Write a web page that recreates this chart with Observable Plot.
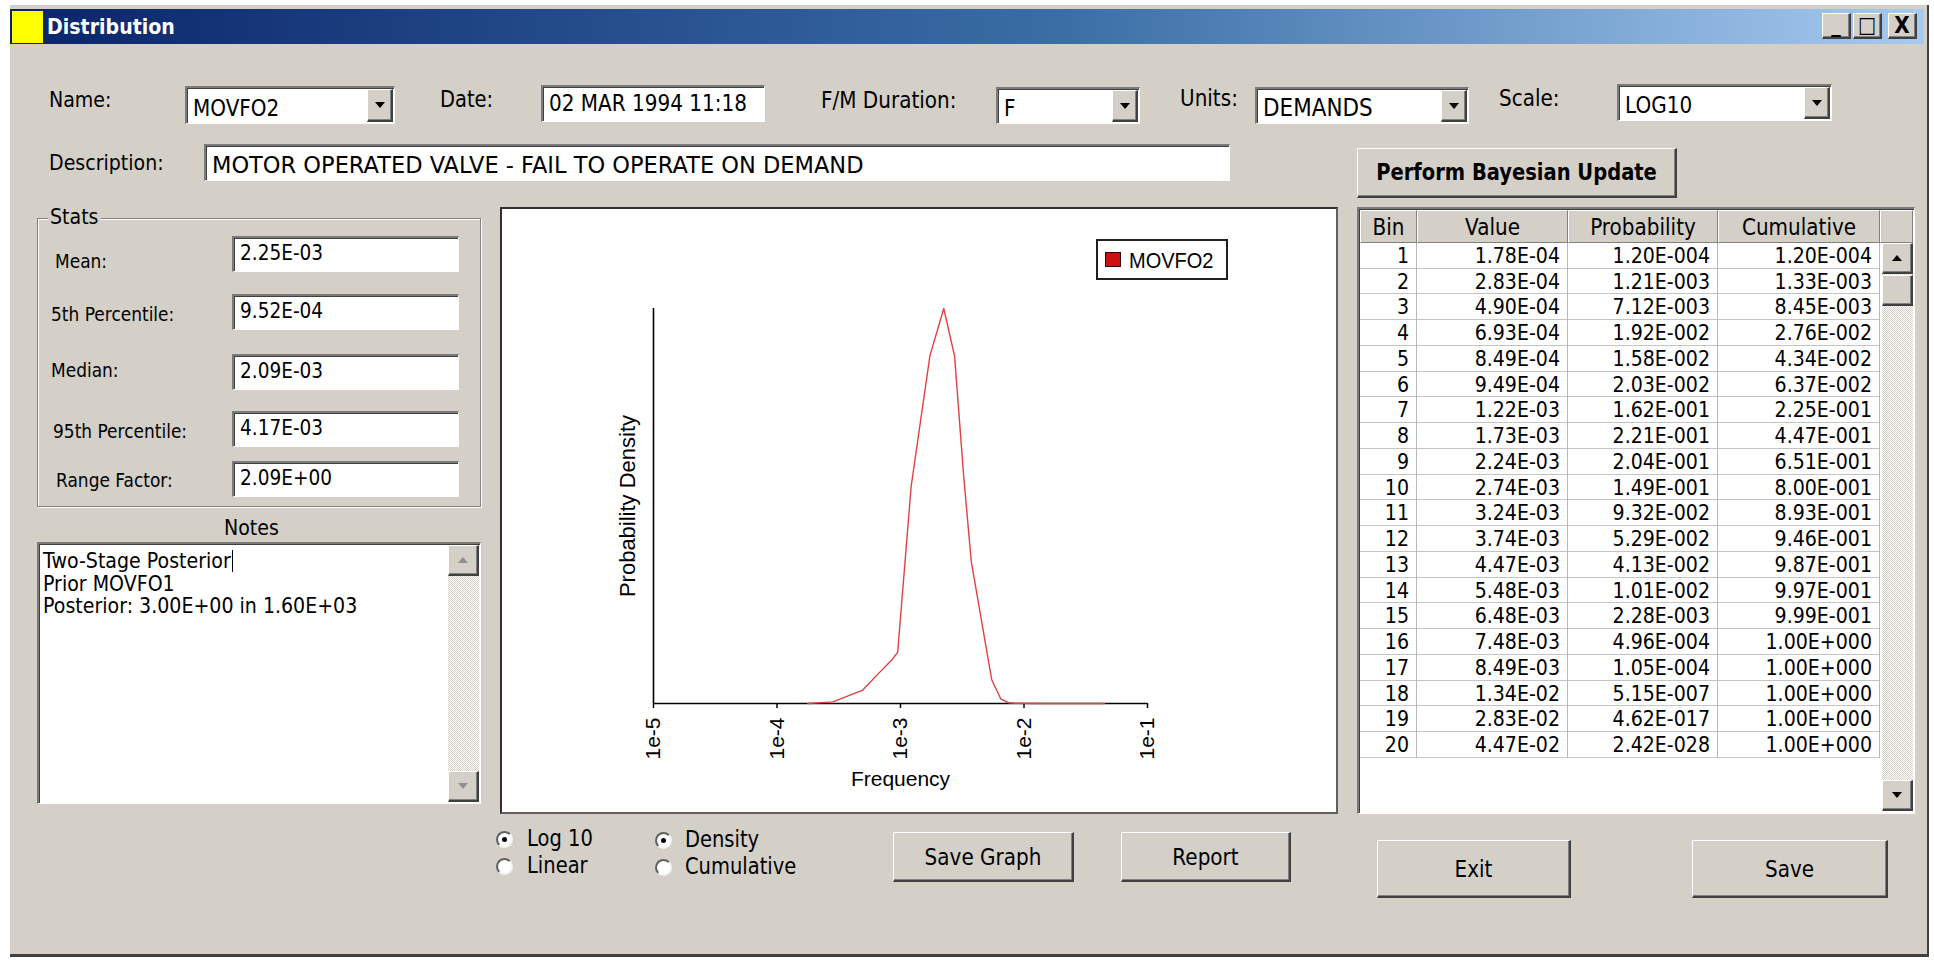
<!DOCTYPE html>
<html>
<head>
<meta charset="utf-8">
<title>Distribution</title>
<script src="https://cdn.jsdelivr.net/npm/d3@7"></script>
<script src="https://cdn.jsdelivr.net/npm/@observablehq/plot@0.6"></script>
<style>
  html, body { margin: 0; padding: 0; }
  body {
    width: 1934px; height: 960px; position: relative; overflow: hidden;
    background: #fff;
    font-family: "DejaVu Sans", "Liberation Sans", sans-serif; font-size: 20px; color: #000;
  }
  .win { position: absolute; left: 10px; top: 5px; width: 1919px; height: 952px; background: #d4d0c8;
         border-right: 2px solid #404040; border-bottom: 3px solid #404040; box-sizing: border-box; }
  .abs { position: absolute; box-sizing: border-box; }
  .t { position: absolute; white-space: nowrap; line-height: 1; transform: translateY(-50%) scaleY(1.15); transform-origin: left center; }
  .sunken { position: absolute; box-sizing: border-box; background: #fff;
            border-top: 2px solid #7a7a7a; border-left: 2px solid #7a7a7a;
            border-right: 1px solid #fff; border-bottom: 1px solid #fff;
            box-shadow: inset 1px 1px 0 #404040; }
  .raised { position: absolute; box-sizing: border-box; background: #d4d0c8;
            border-top: 1px solid #fff; border-left: 1px solid #fff;
            border-right: 2px solid #404040; border-bottom: 2px solid #404040;
            box-shadow: inset -1px -1px 0 #808080; }
  .field-text { position: absolute; left: 6px; top: 50%; white-space: nowrap; line-height: 1;
                transform: translateY(-50%) scaleY(1.15); transform-origin: left center; }
  .down { position: absolute; left: 50%; top: 50%; width: 0; height: 0; margin-left: -5px; margin-top: -3px;
          border-left: 5px solid transparent; border-right: 5px solid transparent; border-top: 6px solid #000; }
  .up { position: absolute; left: 50%; top: 50%; width: 0; height: 0; margin-left: -5px; margin-top: -3px;
        border-left: 5px solid transparent; border-right: 5px solid transparent; border-bottom: 6px solid #000; }
  .track { position: absolute; box-sizing: border-box;
           background: repeating-conic-gradient(#d4d0c8 0 25%, #ffffff 0 50%) 0 0 / 2px 2px; }
  .btn-label { position: absolute; left: 0; right: 0; top: 50%; text-align: center; line-height: 1;
               transform: translateY(-50%) scaleY(1.15); white-space: nowrap; }
  .radio { position: absolute; width: 17px; height: 17px; border-radius: 50%; box-sizing: border-box; background: #fff;
           border: 2px solid; border-color: #606060 #f4f4f4 #f4f4f4 #606060; }
  .radio.on::after { content: ""; position: absolute; left: 4px; top: 4px; width: 5px; height: 5px; border-radius: 50%; background: #000; }
  .cell { position: absolute; box-sizing: border-box; text-align: right; white-space: nowrap; line-height: 1; padding-right: 8px; }
  .cell span { display: inline-block; transform: scaleY(1.12); }
  .hcell { position: absolute; box-sizing: border-box; background: #d4d0c8; text-align: center;
           border-top: 1px solid #fff; border-left: 1px solid #fff; border-right: 1px solid #808080; border-bottom: 1px solid #808080; }
  .hcell span { position: absolute; left: 0; right: 0; top: 50%; transform: translateY(-50%) scaleY(1.12); line-height: 1; }
  #chart svg { display: block; }
</style>
</head>
<body>
<div class="win"></div>
<div id="ui"></div>
<script>
// ---- distribution data -------------------------------------------------
const binNumbers = [1, 2, 3, 4, 5, 6, 7, 8, 9, 10, 11, 12, 13, 14, 15, 16, 17, 18, 19, 20];
const binValues = [1.78e-4, 2.83e-4, 4.90e-4, 6.93e-4, 8.49e-4, 9.49e-4, 1.22e-3, 1.73e-3, 2.24e-3, 2.74e-3,
                   3.24e-3, 3.74e-3, 4.47e-3, 5.48e-3, 6.48e-3, 7.48e-3, 8.49e-3, 1.34e-2, 2.83e-2, 4.47e-2];
const binProbability = [1.20e-4, 1.21e-3, 7.12e-3, 1.92e-2, 1.58e-2, 2.03e-2, 1.62e-1, 2.21e-1, 2.04e-1, 1.49e-1,
                        9.32e-2, 5.29e-2, 4.13e-2, 1.01e-2, 2.28e-3, 4.96e-4, 1.05e-4, 5.15e-7, 4.62e-17, 2.42e-28];
const binCumulative = [1.20e-4, 1.33e-3, 8.45e-3, 2.76e-2, 4.34e-2, 6.37e-2, 2.25e-1, 4.47e-1, 6.51e-1, 8.00e-1,
                       8.93e-1, 9.46e-1, 9.87e-1, 9.97e-1, 9.99e-1, 1.00, 1.00, 1.00, 1.00, 1.00];
// relative probability density at each bin value (peak = 1)
const binDensity = [0, 0.004, 0.033, 0.082, 0.11, 0.13, 0.55, 0.88, 1.0, 0.88,
                    0.58, 0.36, 0.22, 0.06, 0.012, 0.002, 0.0005, 0, 0, 0];

const xTicks = [1e-5, 1e-4, 1e-3, 1e-2, 1e-1];
const xTickLabels = ["1e-5", "1e-4", "1e-3", "1e-2", "1e-1"];
const seriesName = "MOVFO2";

const statLabels = ["Mean:", "5th Percentile:", "Median:", "95th Percentile:", "Range Factor:"];
const statValues = [2.25e-3, 9.52e-4, 2.09e-3, 4.17e-3, 2.09];
const noteLines = ["Two-Stage Posterior", "Prior MOVFO1", "Posterior: 3.00E+00 in 1.60E+03"];

// scientific notation as the form shows it, e.g. 1.78E-04 / 1.20E-004
function sci(v, expDigits) {
  const [m, e] = v.toExponential(2).split("e");
  const n = Math.abs(+e);
  return m + "E" + (+e < 0 ? "-" : "+") + String(n).padStart(expDigits, "0");
}

// ---- form ----------------------------------------------------------------
const ui = document.getElementById("ui");
let html = "";
const add = s => { html += s; };
const label = (text, x, y, extra = "") =>
  add(`<div class="t" style="left:${x}px;top:${y}px;${extra}">${text}</div>`);
const field = (x, y, w, h, text, extra = "") =>
  add(`<div class="sunken" style="left:${x}px;top:${y}px;width:${w}px;height:${h}px">` +
      `<div class="field-text" style="${extra}">${text}</div></div>`);
const combo = (x, y, w, h, text, extra = "") =>
  add(`<div class="sunken" style="left:${x}px;top:${y}px;width:${w}px;height:${h}px">` +
      `<div class="field-text" style="top:56%;${extra}">${text}</div>` +
      `<div class="raised" style="right:1px;top:1px;width:26px;bottom:1px"><div class="down"></div></div></div>`);
const button = (x, y, w, h, text, extra = "") =>
  add(`<div class="raised" style="left:${x}px;top:${y}px;width:${w}px;height:${h}px">` +
      `<div class="btn-label" style="${extra}">${text}</div></div>`);

// title bar
add(`<div class="abs" style="left:10px;top:9px;width:1914px;height:35px;background:linear-gradient(to right,#0a246a 0%,#3a6ea5 55%,#a6caf0 100%)"></div>`);
add(`<div class="abs" style="left:12px;top:11px;width:31px;height:32px;background:#ffff00"></div>`);
label("Distribution", 47, 27, "color:#fff;font-weight:bold;font-size:19px");
[[1822, "_"], [1853, "□"], [1888, "X"]].forEach(([x, g]) =>
  add(`<div class="raised" style="left:${x}px;top:13px;width:29px;height:26px">` +
      `<div class="btn-label" style="font-weight:bold;font-size:${g === "X" ? 20 : 19}px;top:48%">${g}</div></div>`));

// header fields
label("Name:", 49, 100, "font-size:19px");
combo(185, 86, 210, 38, "MOVFO2");
label("Date:", 440, 100, "font-size:19.5px");
field(541, 85, 224, 37, "02 MAR 1994 11:18", "top:48%");
label("F/M Duration:", 821, 100, "font-size:20px");
combo(996, 87, 144, 37, "F");
label("Units:", 1180, 98, "font-size:20px");
combo(1255, 87, 214, 37, "DEMANDS", "font-size:21.5px");
label("Scale:", 1499, 98, "font-size:20px");
combo(1617, 84, 215, 37, "LOG10");

label("Description:", 49, 163, "font-size:19px");
field(204, 144, 1026, 37, "MOTOR OPERATED VALVE - FAIL TO OPERATE ON DEMAND", "top:55%;font-size:22.5px;transform:translateY(-50%) scaleY(1.05)");

button(1357, 148, 320, 50, "Perform Bayesian Update", "font-weight:bold;font-size:19.5px");

// stats group
add(`<div class="abs" style="left:37px;top:218px;width:444px;height:289px;border:1px solid #808080;box-shadow:1px 1px 0 #fff, inset 1px 1px 0 #fff"></div>`);
label("Stats", 48, 217, "background:#d4d0c8;padding:0 2px;font-size:19px");
const statRows = [[262, 236], [315, 294], [371, 354], [432, 411], [481, 461]];
const statLabelX = [55, 51, 51, 53, 56];
statLabels.forEach((s, i) => {
  label(s, statLabelX[i], statRows[i][0], "font-size:17px");
  field(232, statRows[i][1], 227, 36, sci(statValues[i], 2), "top:44%;font-size:18.5px");
});

// notes
label("Notes", 224, 528, "font-size:19px");
add(`<div class="sunken" style="left:37px;top:542px;width:444px;height:262px">` +
    noteLines.map((l, i) => `<div class="t" style="left:4px;top:${17 + i * 22.5}px;font-size:19px">${l}` +
      (i === 0 ? `<span style="display:inline-block;width:1px;height:19px;background:#000;vertical-align:-3px;margin-left:1px"></span>` : "") +
      `</div>`).join("") +
    `<div class="track" style="right:1px;top:1px;width:31px;bottom:1px"></div>` +
    `<div class="raised" style="right:1px;top:1px;width:31px;height:31px"><div class="up" style="border-bottom-color:#909090"></div></div>` +
    `<div class="raised" style="right:1px;bottom:1px;width:31px;height:31px"><div class="down" style="border-top-color:#909090"></div></div>` +
    `</div>`);

// chart panel
add(`<div class="abs" style="left:500px;top:207px;width:838px;height:607px;background:#fff;border:2px solid #303030;border-right-color:#606060;border-bottom-color:#606060"></div>`);
add(`<div id="chart" class="abs" style="left:502px;top:209px"></div>`);
// legend
add(`<div class="abs" style="left:1096px;top:239px;width:132px;height:41px;background:#fff;border:2px solid #202020"></div>`);
add(`<div class="abs" style="left:1105px;top:252px;width:16px;height:15px;background:#cc1010;border:1px solid #300"></div>`);
add(`<div class="t" style="left:1129px;top:260px;font-family:'Liberation Sans',Arial,sans-serif;font-size:20px;transform:translateY(-50%) scaleY(1.1)">${seriesName}</div>`);

// table
const colEdges = [1360, 1417, 1568, 1718, 1880];
const headers = ["Bin", "Value", "Probability", "Cumulative"];
add(`<div class="sunken" style="left:1357px;top:207px;width:558px;height:607px"></div>`);
headers.forEach((h, i) =>
  add(`<div class="hcell" style="left:${colEdges[i]}px;top:210px;width:${colEdges[i + 1] - colEdges[i]}px;height:33px"><span>${h}</span></div>`));
add(`<div class="hcell" style="left:1880px;top:210px;width:33px;height:33px"></div>`);
const rowTop = 243, rowH = 25.74;
const cols = [binNumbers.map(String), binValues.map(v => sci(v, 2)), binProbability.map(v => sci(v, 3)), binCumulative.map(v => sci(v, 3))];
binNumbers.forEach((b, r) => {
  const y = rowTop + r * rowH;
  add(`<div class="abs" style="left:1360px;top:${y + rowH - 1}px;width:520px;height:1px;background:#c4c4c4"></div>`);
  cols.forEach((c, i) =>
    add(`<div class="cell" style="left:${colEdges[i]}px;top:${y}px;width:${colEdges[i + 1] - colEdges[i]}px;height:${rowH}px;line-height:${rowH}px;font-size:19px"><span>${c[r]}</span></div>`));
});
const tableBottom = rowTop + binNumbers.length * rowH;
colEdges.slice(1).forEach(x =>
  add(`<div class="abs" style="left:${x - 1}px;top:${rowTop}px;width:1px;height:${tableBottom - rowTop}px;background:#b8b8b8"></div>`));
// table scrollbar
add(`<div class="track" style="left:1882px;top:243px;width:31px;height:568px"></div>`);
add(`<div class="raised" style="left:1882px;top:243px;width:31px;height:31px"><div class="up"></div></div>`);
add(`<div class="raised" style="left:1882px;top:275px;width:31px;height:31px"></div>`);
add(`<div class="raised" style="left:1882px;top:780px;width:31px;height:31px"><div class="down"></div></div>`);

// bottom controls
[[504, 839, true, "Log 10", 527], [504, 866, false, "Linear", 527], [663, 840, true, "Density", 685], [663, 867, false, "Cumulative", 685]]
  .forEach(([cx, cy, on, text, tx]) => {
    add(`<div class="radio${on ? " on" : ""}" style="left:${cx - 8}px;top:${cy - 8}px"></div>`);
    label(text, tx, cy, "font-size:19.5px");
  });
button(893, 832, 181, 50, "Save Graph", "top:52%");
button(1121, 832, 170, 50, "Report", "top:52%");
button(1377, 840, 194, 58, "Exit", "top:50%");
button(1692, 840, 196, 58, "Save", "top:50%");

ui.innerHTML = html;

// ---- density chart -----------------------------------------------------
const curve = binValues.map((v, i) => ({value: v, density: binDensity[i]}));
const chart = Plot.plot({
  width: 834,
  height: 602,
  marginLeft: 151,
  marginRight: 189,
  marginTop: 99,
  marginBottom: 108,
  style: {background: "transparent", color: "#000", fontFamily: "'Liberation Sans', Arial, sans-serif", fontSize: "21px", overflow: "visible"},
  x: {type: "log", domain: [1e-5, 1e-1]},
  y: {domain: [0, 1], axis: null},
  marks: [
    Plot.axisX(xTicks, {
      tickFormat: d => xTickLabels[xTicks.indexOf(d)],
      tickRotate: -90, tickSize: 5, tickPadding: 9, strokeWidth: 1.5, fontSize: 21,
      label: "Frequency", labelAnchor: "center", labelOffset: 82, labelArrow: "none"
    }),
    Plot.ruleX([1e-5], {stroke: "#000", strokeWidth: 1.6}),
    Plot.ruleY([0], {stroke: "#000", strokeWidth: 1.6}),
    Plot.line(curve, {x: "value", y: "density", stroke: "#e04040", strokeWidth: 1.4}),
    Plot.text(["Probability Density"], {frameAnchor: "left", textAnchor: "middle", dx: -26, rotate: -90, fontSize: 22})
  ]
});
document.getElementById("chart").appendChild(chart);
</script>
</body>
</html>
